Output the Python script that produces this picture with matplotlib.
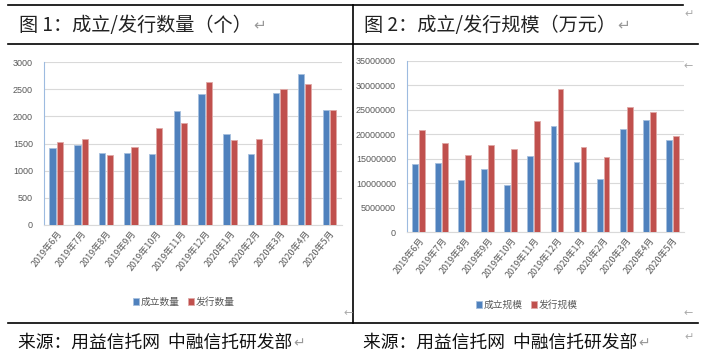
import matplotlib
matplotlib.use("Agg")
import matplotlib.pyplot as plt
from matplotlib.lines import Line2D
import numpy as np

W, H = 703, 362
months = ["2019年6月", "2019年7月", "2019年8月", "2019年9月", "2019年10月", "2019年11月",
          "2019年12月", "2020年1月", "2020年2月", "2020年3月", "2020年4月", "2020年5月"]
count_est = [1420, 1470, 1330, 1330, 1310, 2100, 2410, 1680, 1310, 2430, 2780, 2110]
count_iss = [1525, 1575, 1280, 1440, 1780, 1870, 2640, 1570, 1590, 2510, 2590, 2110]
scale_est = [14000000, 14150000, 10650000, 12900000, 9600000, 15650000, 21750000,
             14350000, 10900000, 21050000, 22900000, 18800000]
scale_iss = [20800000, 18250000, 15850000, 17900000, 16950000, 22700000, 29200000,
             17350000, 15300000, 25600000, 24550000, 19550000]
left_title = "图 1：成立/发行数量（个）"
right_title = "图 2：成立/发行规模（万元）"
left_legend = ["成立数量", "发行数量"]
right_legend = ["成立规模", "发行规模"]
source = "来源：用益信托网  中融信托研发部"

BLUE = "#4F81BD"
RED = "#C0504D"
GRAY = "#595959"
CJK = ["Noto Sans CJK SC", "DejaVu Sans"]
NUM = ["Liberation Sans Narrow", "Liberation Sans", "DejaVu Sans"]

plt.rcParams['font.family'] = CJK
fig = plt.figure(figsize=(W / 100, H / 100), dpi=100)

def px_axes(x0, x1, top, bottom):
    return fig.add_axes([x0 / W, (H - bottom) / H, (x1 - x0) / W, (bottom - top) / H])

def fx(x):
    return x / W

def fy(y):
    return (H - y) / H

# frame lines
lines = [((8, 683), (5, 5)), ((8, 698), (44, 44)), ((8, 698), (323, 323)), ((353, 353), (5, 323))]
for xs, ys in lines:
    fig.add_artist(Line2D([fx(xs[0]), fx(xs[1])], [fy(ys[0]), fy(ys[1])], color="black", lw=1.2))

def draw(ax, a, b, ymax, step, legend):
    x = np.arange(len(months))
    w = 0.25
    ax.bar(x - 0.155, a, w, color=BLUE, edgecolor="#A7C0DE", linewidth=0.6, zorder=3, label=legend[0])
    ax.bar(x + 0.145, b, w, color=RED, edgecolor="#E0A8A6", linewidth=0.6, zorder=3, label=legend[1])
    ax.set_xlim(-0.5, len(months) - 0.5)
    ax.set_ylim(0, ymax)
    ax.set_yticks(np.arange(0, ymax + 1, step))
    ax.set_yticklabels([str(int(v)) for v in np.arange(0, ymax + 1, step)], family=NUM, fontsize=6.5, color=GRAY)
    ax.set_xticks(x)
    ax.set_xticklabels(months, rotation=52, ha="right", rotation_mode="anchor", fontsize=6.5, color=GRAY)
    ax.tick_params(axis="both", length=0, pad=3)
    ax.tick_params(axis="y", pad=8)
    ax.grid(axis="y", color="#D9D9D9", lw=0.8, zorder=0)
    for s in ["top", "right"]:
        ax.spines[s].set_visible(False)
    ax.spines["left"].set_color("#9DBBE0")
    ax.spines["bottom"].set_color("#D9D9D9")
    ax.set_facecolor("none")

axL = px_axes(44, 342, 62, 225)
draw(axL, count_est, count_iss, 3000, 500, left_legend)
axR = px_axes(407, 684, 61, 232)
draw(axR, scale_est, scale_iss, 35000000, 5000000, right_legend)

for ax, cx, cy in [(axL, 184, 302), (axR, 527, 305)]:
    h, l = ax.get_legend_handles_labels()
    fig.legend(h, l, loc="center", bbox_to_anchor=(fx(cx), fy(cy)), ncol=2, frameon=False,
               fontsize=7, labelcolor=GRAY, handlelength=0.6, handleheight=0.6,
               handletextpad=0.2, columnspacing=0.8, borderpad=0)

renderer = fig.canvas.get_renderer()

def text_with_arrow(x, y, s, size, color, asize, gap=1):
    t = fig.text(fx(x), fy(y), s, fontsize=size, va="center", ha="left", color=color)
    bb = t.get_window_extent(renderer=renderer)
    fig.text(bb.x1 / W + gap / W, fy(y), "↵", fontsize=asize, va="center", ha="left",
             color="#999999", family=["DejaVu Sans"])

# titles
text_with_arrow(19, 25, left_title, 13.8, "#222222", 11)
text_with_arrow(364, 25, right_title, 13.8, "#222222", 11)

# sources
text_with_arrow(18, 343, source, 12.8, "#111111", 10)
text_with_arrow(363, 343, source, 12.8, "#111111", 10)

# stray marks
for (x, y, s) in [(684, 14, "↵"), (684, 66, "←"), (344, 313, "←"), (684, 313, "←"), (684, 337, "↵")]:
    fig.text(fx(x), fy(y), s, fontsize=8, va="center", ha="left", color="#AAAAAA", family=["DejaVu Sans"])

fig.savefig("out.png", dpi=100)
